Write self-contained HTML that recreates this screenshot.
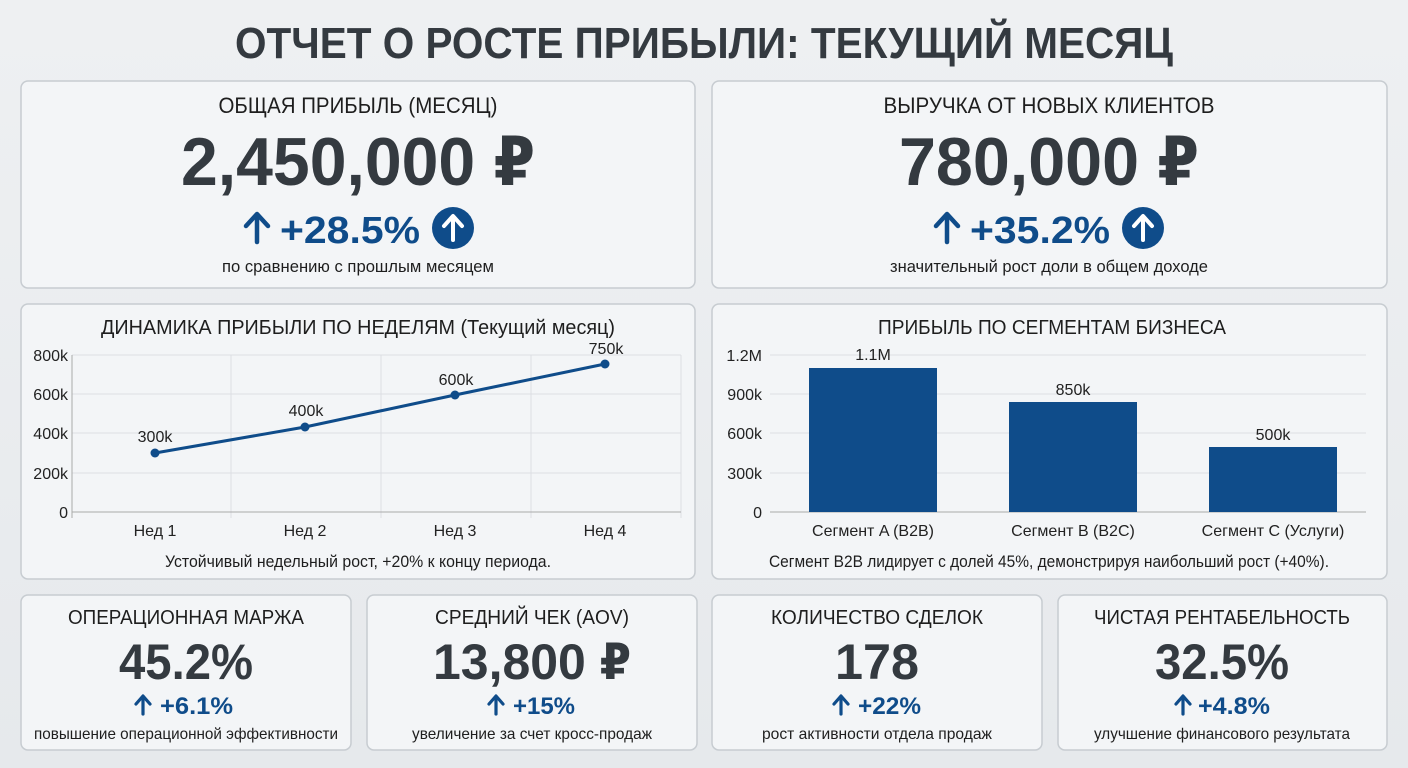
<!DOCTYPE html>
<html><head><meta charset="utf-8"><style>
body{margin:0;background:#e9ecef;}
svg{display:block;font-family:"Liberation Sans Narrow","Liberation Sans","DejaVu Sans Condensed",sans-serif;}
</style></head><body>
<svg width="1408" height="768" viewBox="0 0 1408 768" xmlns="http://www.w3.org/2000/svg">
<defs><linearGradient id="bg" x1="0" y1="0" x2="0" y2="1"><stop offset="0" stop-color="#eef0f2"/><stop offset="1" stop-color="#e6e9ec"/></linearGradient></defs>
<rect width="1408" height="768" fill="url(#bg)"/>
<text x="704" y="58" text-anchor="middle" font-size="44" font-weight="bold" fill="#343a40" textLength="938" lengthAdjust="spacingAndGlyphs">ОТЧЕТ О РОСТЕ ПРИБЫЛИ: ТЕКУЩИЙ МЕСЯЦ</text>
<g fill="#f3f5f7" stroke="#c7ccd1" stroke-width="1.5">
<rect x="21" y="81" width="674" height="207" rx="7"/>
<rect x="712" y="81" width="675" height="207" rx="7"/>
<rect x="21" y="304" width="674" height="275" rx="7"/>
<rect x="712" y="304" width="675" height="275" rx="7"/>
<rect x="21" y="595" width="330" height="155" rx="7"/>
<rect x="367" y="595" width="330" height="155" rx="7"/>
<rect x="712" y="595" width="330" height="155" rx="7"/>
<rect x="1058" y="595" width="329" height="155" rx="7"/>
</g>
<!-- top left -->
<text x="358" y="113" text-anchor="middle" font-size="22" fill="#1e1e1e" textLength="279" lengthAdjust="spacingAndGlyphs">ОБЩАЯ ПРИБЫЛЬ (МЕСЯЦ)</text>
<text x="358" y="185" text-anchor="middle" font-size="68" font-weight="bold" fill="#343a40" textLength="354" lengthAdjust="spacingAndGlyphs">2,450,000 ₽</text>
<g stroke="#0f4c8a" stroke-width="4.5" fill="none" stroke-linecap="round" stroke-linejoin="round">
<line x1="257" y1="242" x2="257" y2="215"/><polyline points="246,226 257,214 268,226"/>
<line x1="947" y1="242" x2="947" y2="215"/><polyline points="936,226 947,214 958,226"/>
</g>
<text x="280" y="243" font-size="38" font-weight="bold" fill="#0f4c8a" textLength="140" lengthAdjust="spacingAndGlyphs">+28.5%</text>
<circle cx="453" cy="228" r="21" fill="#0f4c8a"/>
<text x="358" y="272" text-anchor="middle" font-size="17" fill="#1e1e1e" textLength="272" lengthAdjust="spacingAndGlyphs">по сравнению с прошлым месяцем</text>
<!-- top right -->
<text x="1049" y="113" text-anchor="middle" font-size="22" fill="#1e1e1e" textLength="331" lengthAdjust="spacingAndGlyphs">ВЫРУЧКА ОТ НОВЫХ КЛИЕНТОВ</text>
<text x="1049" y="185" text-anchor="middle" font-size="68" font-weight="bold" fill="#343a40" textLength="300" lengthAdjust="spacingAndGlyphs">780,000 ₽</text>
<text x="970" y="243" font-size="38" font-weight="bold" fill="#0f4c8a" textLength="140" lengthAdjust="spacingAndGlyphs">+35.2%</text>
<circle cx="1143" cy="228" r="21" fill="#0f4c8a"/>
<g stroke="#fff" stroke-width="4" fill="none" stroke-linecap="round" stroke-linejoin="round">
<line x1="453" y1="240" x2="453" y2="217"/><polyline points="444,226 453,216 462,226"/>
<line x1="1143" y1="240" x2="1143" y2="217"/><polyline points="1134,226 1143,216 1152,226"/>
</g>
<text x="1049" y="272" text-anchor="middle" font-size="17" fill="#1e1e1e" textLength="318" lengthAdjust="spacingAndGlyphs">значительный рост доли в общем доходе</text>
<!-- line chart -->
<text x="358" y="334" text-anchor="middle" font-size="20" fill="#1e1e1e" textLength="514" lengthAdjust="spacingAndGlyphs">ДИНАМИКА ПРИБЫЛИ ПО НЕДЕЛЯМ (Текущий месяц)</text>
<g stroke="#dcdfe3" stroke-width="1">
<line x1="72" y1="355" x2="681" y2="355"/><line x1="72" y1="394" x2="681" y2="394"/><line x1="72" y1="433" x2="681" y2="433"/><line x1="72" y1="473" x2="681" y2="473"/>
<line x1="231" y1="355" x2="231" y2="518"/><line x1="381" y1="355" x2="381" y2="518"/><line x1="531" y1="355" x2="531" y2="518"/><line x1="681" y1="355" x2="681" y2="518"/>
</g>
<line x1="72" y1="355" x2="72" y2="518" stroke="#aaa"/><line x1="72" y1="512" x2="681" y2="512" stroke="#aaa"/>
<g font-size="16" fill="#222" text-anchor="end">
<text x="68" y="361">800k</text><text x="68" y="400">600k</text><text x="68" y="439">400k</text><text x="68" y="479">200k</text><text x="68" y="518">0</text>
</g>
<g font-size="16" fill="#222" text-anchor="middle">
<text x="155" y="536">Нед 1</text><text x="305" y="536">Нед 2</text><text x="455" y="536">Нед 3</text><text x="605" y="536">Нед 4</text>
</g>
<polyline points="155,453 305,427 455,395 605,364" fill="none" stroke="#0f4c8a" stroke-width="3"/>
<g fill="#0f4c8a"><circle cx="155" cy="453" r="4.5"/><circle cx="305" cy="427" r="4.5"/><circle cx="455" cy="395" r="4.5"/><circle cx="605" cy="364" r="4.5"/></g>
<g font-size="16" fill="#222" text-anchor="middle">
<text x="155" y="442">300k</text><text x="306" y="416">400k</text><text x="456" y="385">600k</text><text x="606" y="354">750k</text>
</g>
<text x="358" y="567" text-anchor="middle" font-size="17" fill="#1e1e1e" textLength="386" lengthAdjust="spacingAndGlyphs">Устойчивый недельный рост, +20% к концу периода.</text>
<!-- bar chart -->
<text x="1052" y="334" text-anchor="middle" font-size="20" fill="#1e1e1e" textLength="348" lengthAdjust="spacingAndGlyphs">ПРИБЫЛЬ ПО СЕГМЕНТАМ БИЗНЕСА</text>
<g stroke="#dcdfe3"><line x1="770" y1="355" x2="1366" y2="355"/><line x1="770" y1="394" x2="1366" y2="394"/><line x1="770" y1="433" x2="1366" y2="433"/><line x1="770" y1="473" x2="1366" y2="473"/></g>
<line x1="770" y1="512" x2="1366" y2="512" stroke="#aaa"/>
<g font-size="16" fill="#222" text-anchor="end">
<text x="762" y="361">1.2M</text><text x="762" y="400">900k</text><text x="762" y="439">600k</text><text x="762" y="479">300k</text><text x="762" y="518">0</text>
</g>
<g fill="#0f4c8a"><rect x="809" y="368" width="128" height="144"/><rect x="1009" y="402" width="128" height="110"/><rect x="1209" y="447" width="128" height="65"/></g>
<g font-size="16" fill="#222" text-anchor="middle">
<text x="873" y="360">1.1M</text><text x="1073" y="395">850k</text><text x="1273" y="440">500k</text>
<text x="873" y="536">Сегмент A (B2B)</text><text x="1073" y="536">Сегмент B (B2C)</text><text x="1273" y="536">Сегмент C (Услуги)</text>
</g>
<text x="1049" y="567" text-anchor="middle" font-size="17" fill="#1e1e1e" textLength="560" lengthAdjust="spacingAndGlyphs">Сегмент B2B лидирует с долей 45%, демонстрируя наибольший рост (+40%).</text>
<!-- bottom cards -->
<g stroke="#0f4c8a" stroke-width="3.2" fill="none" stroke-linecap="round" stroke-linejoin="round">
<line x1="143" y1="714" x2="143" y2="697"/><polyline points="136,704 143,696 150,704"/>
<line x1="496" y1="714" x2="496" y2="697"/><polyline points="489,704 496,696 503,704"/>
<line x1="841" y1="714" x2="841" y2="697"/><polyline points="834,704 841,696 848,704"/>
<line x1="1183" y1="714" x2="1183" y2="697"/><polyline points="1176,704 1183,696 1190,704"/>
</g>
<g font-size="24" font-weight="bold" fill="#0f4c8a">
<text x="160" y="714" textLength="73" lengthAdjust="spacingAndGlyphs">+6.1%</text>
<text x="513" y="714" textLength="62" lengthAdjust="spacingAndGlyphs">+15%</text>
<text x="858" y="714" textLength="63" lengthAdjust="spacingAndGlyphs">+22%</text>
<text x="1198" y="714" textLength="72" lengthAdjust="spacingAndGlyphs">+4.8%</text>
</g>
<g text-anchor="middle">
<text x="186" y="624" font-size="20" fill="#1e1e1e" textLength="236" lengthAdjust="spacingAndGlyphs">ОПЕРАЦИОННАЯ МАРЖА</text>
<text x="186" y="679" font-size="50" font-weight="bold" fill="#343a40" textLength="134" lengthAdjust="spacingAndGlyphs">45.2%</text>
<text x="186" y="739" font-size="16" fill="#1e1e1e" textLength="304" lengthAdjust="spacingAndGlyphs">повышение операционной эффективности</text>

<text x="532" y="624" font-size="20" fill="#1e1e1e" textLength="194" lengthAdjust="spacingAndGlyphs">СРЕДНИЙ ЧЕК (AOV)</text>
<text x="532" y="679" font-size="50" font-weight="bold" fill="#343a40" textLength="198" lengthAdjust="spacingAndGlyphs">13,800 ₽</text>
<text x="532" y="739" font-size="16" fill="#1e1e1e" textLength="240" lengthAdjust="spacingAndGlyphs">увеличение за счет кросс-продаж</text>

<text x="877" y="624" font-size="20" fill="#1e1e1e" textLength="212" lengthAdjust="spacingAndGlyphs">КОЛИЧЕСТВО СДЕЛОК</text>
<text x="877" y="679" font-size="50" font-weight="bold" fill="#343a40" textLength="84" lengthAdjust="spacingAndGlyphs">178</text>
<text x="877" y="739" font-size="16" fill="#1e1e1e" textLength="230" lengthAdjust="spacingAndGlyphs">рост активности отдела продаж</text>

<text x="1222" y="624" font-size="20" fill="#1e1e1e" textLength="256" lengthAdjust="spacingAndGlyphs">ЧИСТАЯ РЕНТАБЕЛЬНОСТЬ</text>
<text x="1222" y="679" font-size="50" font-weight="bold" fill="#343a40" textLength="134" lengthAdjust="spacingAndGlyphs">32.5%</text>
<text x="1222" y="739" font-size="16" fill="#1e1e1e" textLength="256" lengthAdjust="spacingAndGlyphs">улучшение финансового результата</text>
</g>
</svg>
</body></html>
